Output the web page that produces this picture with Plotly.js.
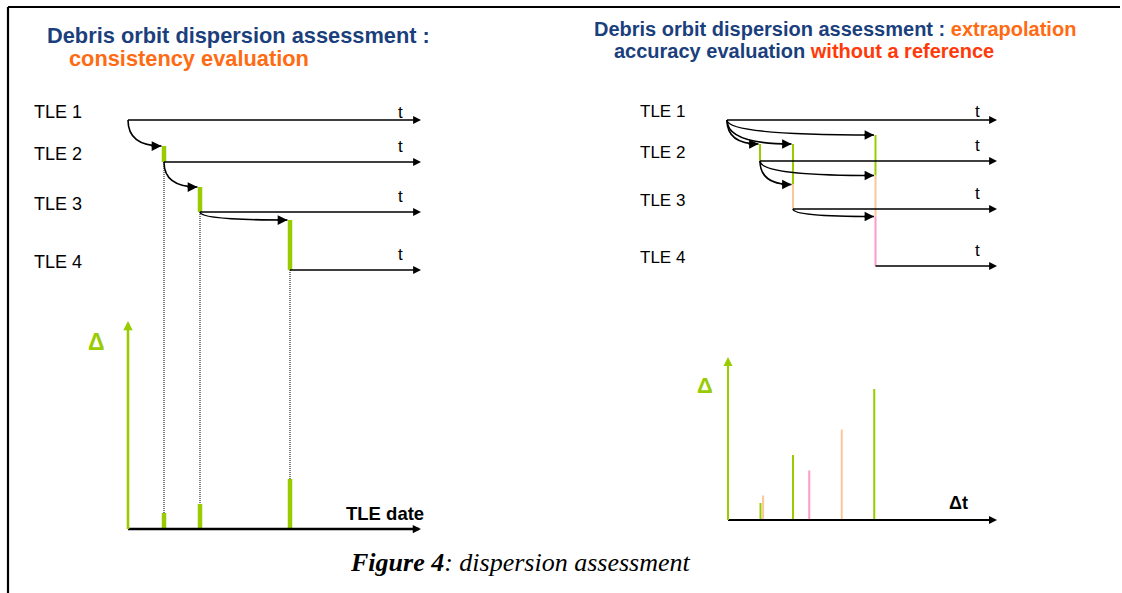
<!DOCTYPE html>
<html>
<head>
<meta charset="utf-8">
<script src="https://cdn.plot.ly/plotly-3.0.1.min.js"></script>
<style>
html,body{margin:0;padding:0;background:#fff;}
#chart{width:1122px;height:593px;}
</style>
</head>
<body>
<div id="chart"></div>
<script>
// ---------------- data ----------------
const tleLabels = ['TLE 1', 'TLE 2', 'TLE 3', 'TLE 4'];
const tleEpochs = [0, 1, 2, 4.5];              // TLE dates (time units)
const tleRowsLeft = [0, 4.2, 9.2, 15.0];       // vertical rows of the left scheme
const tleRowsRight = [0, 4.1, 8.9, 14.6];      // vertical rows of the right scheme
// left scheme: Δ between TLE k and TLE k-1 extrapolated to date k (k = 2..4)
const consistencyDelta = [1.6, 2.5, 5.0];
// right scheme: TLE "source" extrapolated to the date of TLE "target"
const predSource = [1, 1, 2, 1, 2, 3];
const predTarget = [2, 3, 3, 4, 4, 4];
const predDelta  = [1.7, 6.5, 2.45, 13.1, 9.05, 4.95];

// ---------------- styles / layout geometry ----------------
const W = 1122, H = 593;
const GREEN = '#99CC00', PEACH = '#FBC79A', PINK = '#FF99CC';
const BLUE = '#1B3F7D', ORANGE = '#FF6B12', RED = '#FF3A0A';
const sourceColors = {1: GREEN, 2: PEACH, 3: PINK};
const SANS = 'Liberation Sans, Arial, sans-serif';
const SERIF = 'Liberation Serif, Times New Roman, serif';

const LEFT  = {t0: 128, pxT: 36, row0: 120, pxRow: 10, base: 529, pxD: 10, tEnd: 421, dTop: 321};
const RIGHT = {t0: 727, pxT: 33, row0: 120, pxRow: 10, dt0: 728, pxDt: 32.5, base: 520, pxD: 10, tEnd: 997, dtEnd: 997, dTop: 357};

const xRange = (o, px) => [-o / px, (W - o) / px];
const rowRange = (r0, px) => [(H - r0) / px, -r0 / px];
const upRange = (b, px) => [-(H - b) / px, b / px];

const ax = (range, extra) => Object.assign({visible: false, showgrid: false, zeroline: false,
  fixedrange: true, autorange: false, range: range, domain: [0, 1]}, extra || {});

const layout = {
  width: W, height: H, autosize: false,
  margin: {l: 0, r: 0, t: 0, b: 0, pad: 0},
  paper_bgcolor: '#fff', plot_bgcolor: 'rgba(0,0,0,0)',
  showlegend: false,
  xaxis: ax([0, W]), yaxis: ax([H, 0]),
  xaxis2: ax(xRange(LEFT.t0, LEFT.pxT), {overlaying: 'x'}),
  yaxis2: ax(rowRange(LEFT.row0, LEFT.pxRow), {overlaying: 'y'}),
  yaxis3: ax(upRange(LEFT.base, LEFT.pxD), {overlaying: 'y'}),
  xaxis4: ax(xRange(RIGHT.t0, RIGHT.pxT), {overlaying: 'x'}),
  yaxis4: ax(rowRange(RIGHT.row0, RIGHT.pxRow), {overlaying: 'y'}),
  xaxis5: ax(xRange(RIGHT.dt0, RIGHT.pxDt), {overlaying: 'x'}),
  yaxis5: ax(upRange(RIGHT.base, RIGHT.pxD), {overlaying: 'y'}),
  shapes: [], annotations: []
};

const traces = [];
function seg(xs, ys, color, width, xa, ya, dash) {
  traces.push({type: 'scatter', mode: 'lines', x: xs, y: ys, xaxis: xa, yaxis: ya,
    connectgaps: false, line: {color: color, width: width, dash: dash || 'solid'},
    hoverinfo: 'skip', showlegend: false});
}
function arrowLine(xa, ya, x0, y0, x1, y1, color, width, size) {
  layout.annotations.push({xref: xa, yref: ya, axref: xa, ayref: ya, x: x1, y: y1, ax: x0, ay: y0,
    text: '', showarrow: true, arrowhead: 2, arrowsize: size, arrowwidth: width, arrowcolor: color,
    standoff: 0, borderpad: 0, borderwidth: 0, font: {size: 1}});
}
function arrowTip(xa, ya, x, y, color, width, size) {
  layout.annotations.push({xref: xa, yref: ya, x: x, y: y, ax: -10, ay: 0,
    text: '', showarrow: true, arrowhead: 2, arrowsize: size, arrowwidth: width, arrowcolor: color,
    standoff: 0, borderpad: 0, borderwidth: 0, font: {size: 1}});
}
function curve(xa, ya, x0, y0, x1, y1) {
  layout.shapes.push({type: 'path', xref: xa, yref: ya, layer: 'above',
    path: 'M' + x0 + ',' + y0 + ' Q' + x0 + ',' + y1 + ' ' + x1 + ',' + y1,
    line: {color: '#000', width: 1.6}});
}
function txt(text, xa, ya, x, y, size, opts) {
  layout.annotations.push(Object.assign({xref: xa, yref: ya, x: x, y: y, text: text, showarrow: false,
    xanchor: 'left', yanchor: 'middle', borderpad: 0, borderwidth: 0,
    font: {family: SANS, size: size, color: '#000'}}, opts || {}));
}

// ---------------- frame ----------------
seg([8, 1120], [7, 7], '#000', 2, 'x', 'y');
seg([8, 8], [7, H], '#000', 2.2, 'x', 'y');

// ---------------- left scheme (consistency) ----------------
const lTEnd = (LEFT.tEnd - LEFT.t0) / LEFT.pxT;
const lDTop = (LEFT.base - LEFT.dTop) / LEFT.pxD;
const rowToLeftD = r => (LEFT.base - (LEFT.row0 + r * LEFT.pxRow)) / LEFT.pxD;
const lBarW = 4.5;
const lTip = (lBarW / 2 + 0.3) / LEFT.pxT;

tleEpochs.forEach((e, i) => {
  arrowLine('x2', 'y2', e, tleRowsLeft[i], lTEnd, tleRowsLeft[i], '#000', 1.5, 1.05);
  txt(tleLabels[i], 'x', 'y2', 34, tleRowsLeft[i], 18, {yshift: 8.5});
  txt('t', 'x', 'y2', 400, tleRowsLeft[i], 17, {xanchor: 'center', yshift: i === 0 ? 8 : 16});
});
const lbx = [], lby = [], ldx = [], ldy = [], lgx = [], lgy = [];
consistencyDelta.forEach((d, j) => {
  const k = j + 1, e = tleEpochs[k];
  lbx.push(e, e, null); lby.push(tleRowsLeft[k] - d, tleRowsLeft[k], null);
  lgx.push(e, e, null); lgy.push(0, d, null);
  ldx.push(e, e, null); ldy.push(rowToLeftD(tleRowsLeft[k]), d, null);
  const x0 = tleEpochs[k - 1], y0 = tleRowsLeft[k - 1];
  const x1 = e - lTip, y1 = tleRowsLeft[k] - d;
  curve('x2', 'y2', x0, y0, x1, y1);
  arrowTip('x2', 'y2', x1, y1, '#000', 1.5, 1.3);
});
seg(ldx, ldy, '#000', 1, 'x2', 'y3', '1px,1px');
seg(lbx, lby, GREEN, lBarW, 'x2', 'y2');
seg(lgx, lgy, GREEN, lBarW, 'x2', 'y3');
arrowLine('x2', 'y3', 0, 0, lTEnd, 0, '#000', 2.5, 0.66);
arrowLine('x2', 'y3', 0, 0, 0, lDTop, GREEN, 2.6, 0.72);
txt('<b>Δ</b>', 'x', 'y', 96, 342, 23, {xanchor: 'center', font: {family: SANS, size: 23, color: GREEN}});
txt('<b>TLE date</b>', 'x', 'y', 424, 513, 18.5, {xanchor: 'right'});

// ---------------- right scheme (extrapolation accuracy) ----------------
const rTEnd = (RIGHT.tEnd - RIGHT.t0) / RIGHT.pxT;
const rDtEnd = (RIGHT.dtEnd - RIGHT.dt0) / RIGHT.pxDt;
const rDTop = (RIGHT.base - RIGHT.dTop) / RIGHT.pxD;
const rBarW = 2;
const rTip = (rBarW / 2 + 0.5) / RIGHT.pxT;

tleEpochs.forEach((e, i) => {
  arrowLine('x4', 'y4', e, tleRowsRight[i], rTEnd, tleRowsRight[i], '#000', 1.5, 1.05);
  txt(tleLabels[i], 'x', 'y4', 640, tleRowsRight[i], 17, {yshift: 8.5});
  txt('t', 'x', 'y4', 977, tleRowsRight[i], 17, {xanchor: 'center', yshift: i === 0 ? 9 : 15.5});
});

// colored discrepancy segments at each target date
const segByColor = {};
[2, 3, 4].forEach(t => {
  const idx = predTarget.map((tt, i) => tt === t ? i : -1).filter(i => i >= 0)
    .sort((a, b) => predSource[a] - predSource[b]);
  const row = tleRowsRight[t - 1], e = tleEpochs[t - 1];
  idx.forEach((i, j) => {
    const next = j + 1 < idx.length ? predDelta[idx[j + 1]] : 0;
    const c = sourceColors[predSource[i]];
    segByColor[c] = segByColor[c] || {x: [], y: []};
    segByColor[c].x.push(e, e, null);
    segByColor[c].y.push(row - predDelta[i], row - next, null);
  });
});
Object.keys(segByColor).forEach(c => seg(segByColor[c].x, segByColor[c].y, c, rBarW, 'x4', 'y4'));

// extrapolation arrows
predSource.forEach((s, i) => {
  const t = predTarget[i];
  const x0 = tleEpochs[s - 1], y0 = tleRowsRight[s - 1];
  const x1 = tleEpochs[t - 1] - rTip, y1 = tleRowsRight[t - 1] - predDelta[i];
  curve('x4', 'y4', x0, y0, x1, y1);
  arrowTip('x4', 'y4', x1, y1, '#000', 1.5, 1.25);
});

// Δ versus Δt
const bars = {};
const seenDt = {};
predSource.forEach((s, i) => {
  const dt = tleEpochs[predTarget[i] - 1] - tleEpochs[s - 1];
  const n = seenDt[dt] || 0; seenDt[dt] = n + 1;
  const xv = dt + n * (2.6 / RIGHT.pxDt);
  const c = sourceColors[s];
  bars[c] = bars[c] || {x: [], y: []};
  bars[c].x.push(xv, xv, null); bars[c].y.push(0, predDelta[i], null);
});
Object.keys(bars).forEach(c => seg(bars[c].x, bars[c].y, c, rBarW, 'x5', 'y5'));
arrowLine('x5', 'y5', 0, 0, rDtEnd, 0, '#000', 2, 0.8);
arrowLine('x5', 'y5', 0, 0, 0, rDTop, GREEN, 2, 0.9);
txt('<b>Δ</b>', 'x', 'y', 705, 385, 22, {xanchor: 'center', font: {family: SANS, size: 22, color: GREEN}});
txt('<b>Δt</b>', 'x', 'y', 958, 503, 18, {xanchor: 'center'});

// ---------------- titles & caption ----------------
txt('<b>Debris orbit dispersion assessment :</b>', 'x', 'y', 47, 35, 21.8, {font: {family: SANS, size: 21.8, color: BLUE}});
txt('<b>consistency evaluation</b>', 'x', 'y', 69, 58.5, 21.8, {font: {family: SANS, size: 21.8, color: ORANGE}});
txt('<b>Debris orbit dispersion assessment : <span style="color:' + ORANGE + '">extrapolation</span></b>',
  'x', 'y', 594, 28.5, 20, {font: {family: SANS, size: 20, color: BLUE}});
txt('<b>accuracy evaluation <span style="color:' + RED + '">without a reference</span></b>',
  'x', 'y', 614, 50.5, 20, {font: {family: SANS, size: 20, color: BLUE}});
txt('<b><i>Figure 4</i></b><i>: dispersion assessment</i>', 'x', 'y', 350, 562, 26,
  {font: {family: SERIF, size: 26, color: '#000'}});

Plotly.newPlot('chart', traces, layout, {staticPlot: true, displayModeBar: false});
</script>
</body>
</html>
